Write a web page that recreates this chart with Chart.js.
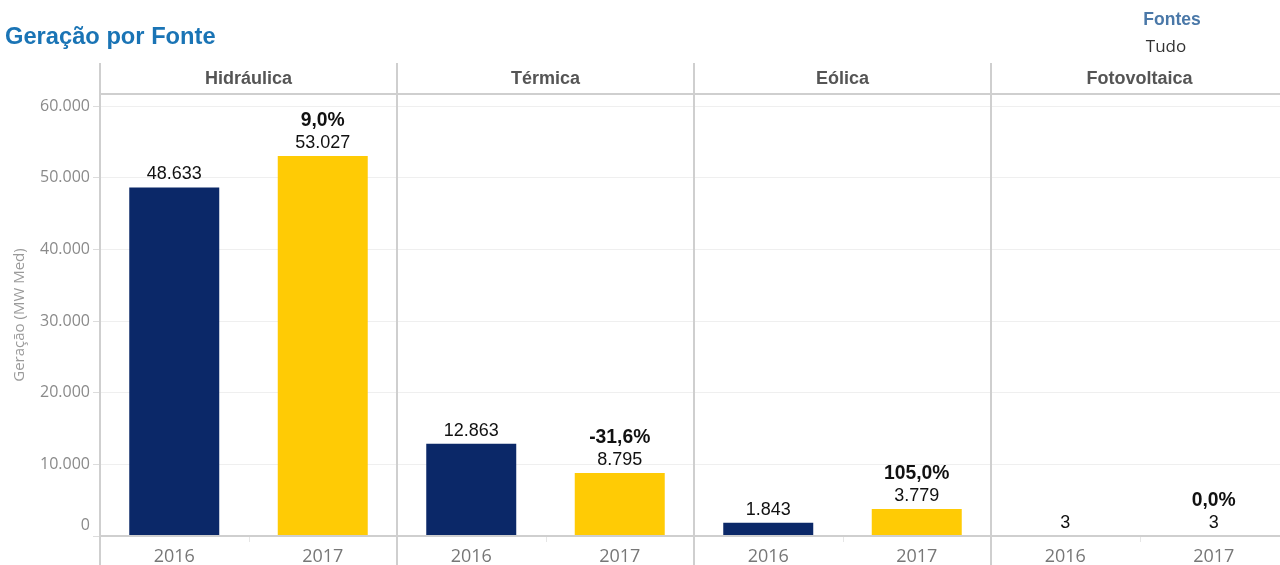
<!DOCTYPE html>
<html><head><meta charset="utf-8">
<script src="https://cdn.jsdelivr.net/npm/chart.js@4"></script>
<style>
html,body{margin:0;padding:0;background:#fff;overflow:hidden;width:1280px;height:565px;}
#wrap{position:relative;width:1290px;height:565px;}
#title{position:absolute;left:5px;top:23px;font:bold 23.7px "Liberation Sans",Arial,sans-serif;color:#1a74b5;white-space:nowrap;}
#fl{position:absolute;left:1122px;width:100px;text-align:center;top:9px;font:bold 17.5px "Liberation Sans",Arial,sans-serif;color:#4a78a8;}
#fv{position:absolute;left:1116px;width:100px;text-align:center;top:34px;font:17px "Open Sans",sans-serif;color:#333;}
</style></head><body>
<div id="wrap">
<canvas id="c" width="1290" height="565"></canvas>
<div id="title">Geração por Fonte</div>
<div id="fl">Fontes</div>
<div id="fv">Tudo</div>
</div>
<script>
const categories = ['Hidráulica','Térmica','Eólica','Fotovoltaica'];
const years = ['2016','2017'];
const values2016 = [48633, 12863, 1843, 3];
const values2017 = [53027, 8795, 3779, 3];
const changeLabels = ['9,0%','-31,6%','105,0%','0,0%'];
const yTickValues = [0, 10000, 20000, 30000, 40000, 50000, 60000];
const yMax = 61680;

const labels = [];
const values = [];
categories.forEach((c, i) => {
  labels.push(years[0]); values.push(values2016[i]);
  labels.push(years[1]); values.push(values2017[i]);
});
function fmt(v){ return String(v).replace(/\B(?=(\d{3})+(?!\d))/g, '.'); }

const panelPlugin = {
  id: 'panels',
  beforeDatasetsDraw(chart){
    const ctx = chart.ctx, a = chart.chartArea;
    const n = categories.length, pw = (a.right - a.left) / n;
    ctx.save();
    ctx.strokeStyle = '#e6e6e6'; ctx.lineWidth = 1;
    for (let i = 0; i < n; i++) {
      const mx = Math.round(a.left + pw * i + pw / 2) + 0.5;
      ctx.beginPath(); ctx.moveTo(mx, a.bottom); ctx.lineTo(mx, a.bottom + 6); ctx.stroke();
    }
    ctx.restore();
  },
  afterDatasetsDraw(chart){
    const ctx = chart.ctx, a = chart.chartArea, ys = chart.scales.y;
    const n = categories.length, pw = (a.right - a.left) / n;
    ctx.save();
    ctx.strokeStyle = '#cfcfcf'; ctx.lineWidth = 2;
    const y0 = ys.getPixelForValue(0);
    ctx.beginPath(); ctx.moveTo(a.left, y0); ctx.lineTo(a.right, y0); ctx.stroke();
    ctx.beginPath(); ctx.moveTo(a.left, a.top); ctx.lineTo(a.right, a.top); ctx.stroke();
    for (let i = 0; i <= n; i++) {
      const x = a.left + pw * i;
      ctx.beginPath(); ctx.moveTo(x, 63); ctx.lineTo(x, 565); ctx.stroke();
    }
    // zero tick label (drawn slightly above the baseline, as in the reference)
    ctx.fillStyle = '#8a8a8a'; ctx.font = '16px "Open Sans", sans-serif';
    ctx.textAlign = 'right'; ctx.textBaseline = 'middle';
    ctx.fillText(fmt(yTickValues[0]), ys.right - 10, y0 - 11);
    // headers
    ctx.fillStyle = '#555'; ctx.font = 'bold 18px "Liberation Sans", Arial, sans-serif';
    ctx.textAlign = 'center'; ctx.textBaseline = 'middle';
    categories.forEach((c, i) => ctx.fillText(c, a.left + pw * i + pw / 2, 79));
    // data labels
    const meta = chart.getDatasetMeta(0);
    meta.data.forEach((bar, i) => {
      const ly = bar.y - 13;
      ctx.fillStyle = '#111';
      ctx.font = '18px "Liberation Sans", Arial, sans-serif';
      ctx.fillText(fmt(values[i]), bar.x, ly);
      if (i % 2 === 1) {
        ctx.font = 'bold 19.3px "Liberation Sans", Arial, sans-serif';
        ctx.fillText(changeLabels[(i - 1) / 2], bar.x, ly - 22);
      }
    });
    ctx.restore();
  }
};

new Chart(document.getElementById('c'), {
  type: 'bar',
  data: {
    labels: labels,
    datasets: [{
      data: values,
      backgroundColor: values.map((v, i) => i % 2 === 0 ? '#0b2868' : '#ffcb05'),
      barPercentage: 0.606,
      categoryPercentage: 1.0,
      borderWidth: 0
    }]
  },
  options: {
    responsive: false,
    animation: false,
    devicePixelRatio: 1,
    layout: { padding: { top: 94, left: 11, right: 2, bottom: 0 } },
    plugins: { legend: { display: false }, tooltip: { enabled: false } },
    scales: {
      x: {
        grid: { display: false, drawTicks: false },
        border: { display: false },
        ticks: { color: '#777', font: { family: 'Open Sans', size: 18 }, padding: 10, maxRotation: 0, autoSkip: false },
        afterFit(s){ s.height = 29; }
      },
      y: {
        min: 0, max: yMax,
        afterBuildTicks(s){ s.ticks = yTickValues.map(v => ({ value: v })); },
        grid: { color: '#efefef', lineWidth: 1, tickLength: 7, tickColor: '#dcdcdc' },
        border: { display: false },
        ticks: { color: '#8a8a8a', font: { family: 'Open Sans', size: 16 }, padding: 3, callback: v => v === 0 ? '' : fmt(v) },
        title: { display: true, text: 'Geração (MW Med)', color: '#9a9a9a', font: { family: 'Open Sans', size: 15 }, padding: { top: 0, bottom: 0 } },
        afterFit(s){ s.width = 89; }
      }
    }
  },
  plugins: [panelPlugin]
});
</script>
</body></html>
